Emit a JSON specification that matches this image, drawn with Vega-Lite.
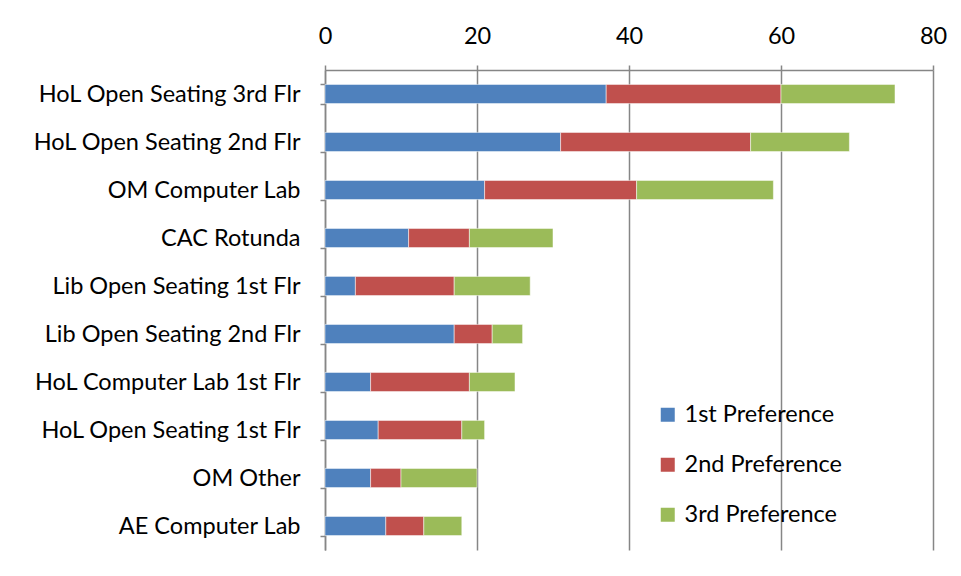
{
  "$schema": "https://vega.github.io/schema/vega-lite/v6.json",
  "width": 608,
  "height": 480,
  "autosize": {"type": "none"},
  "padding": {"left": 325, "top": 70, "right": 28, "bottom": 26},
  "background": "white",
  "config": {
    "view": {"stroke": null},
    "font": "Lato",
    "axis": {"labelFont": "Lato", "labelColor": "#000000", "labelFontSize": 23.5, "domainColor": "#868686", "tickColor": "#868686", "gridColor": "#868686", "domainWidth": 1.5, "tickWidth": 1.5, "gridWidth": 1.5, "tickSize": 5},
    "legend": {"labelFont": "Lato", "labelFontSize": 23.5, "labelColor": "#000000"}
  },
  "data": {
    "values": [
      {"loc": "HoL Open Seating 3rd Flr", "pref": "1st Preference", "rank": 1, "n": 37},
      {"loc": "HoL Open Seating 3rd Flr", "pref": "2nd Preference", "rank": 2, "n": 23},
      {"loc": "HoL Open Seating 3rd Flr", "pref": "3rd Preference", "rank": 3, "n": 15},
      {"loc": "HoL Open Seating 2nd Flr", "pref": "1st Preference", "rank": 1, "n": 31},
      {"loc": "HoL Open Seating 2nd Flr", "pref": "2nd Preference", "rank": 2, "n": 25},
      {"loc": "HoL Open Seating 2nd Flr", "pref": "3rd Preference", "rank": 3, "n": 13},
      {"loc": "OM Computer Lab", "pref": "1st Preference", "rank": 1, "n": 21},
      {"loc": "OM Computer Lab", "pref": "2nd Preference", "rank": 2, "n": 20},
      {"loc": "OM Computer Lab", "pref": "3rd Preference", "rank": 3, "n": 18},
      {"loc": "CAC Rotunda", "pref": "1st Preference", "rank": 1, "n": 11},
      {"loc": "CAC Rotunda", "pref": "2nd Preference", "rank": 2, "n": 8},
      {"loc": "CAC Rotunda", "pref": "3rd Preference", "rank": 3, "n": 11},
      {"loc": "Lib Open Seating 1st Flr", "pref": "1st Preference", "rank": 1, "n": 4},
      {"loc": "Lib Open Seating 1st Flr", "pref": "2nd Preference", "rank": 2, "n": 13},
      {"loc": "Lib Open Seating 1st Flr", "pref": "3rd Preference", "rank": 3, "n": 10},
      {"loc": "Lib Open Seating 2nd Flr", "pref": "1st Preference", "rank": 1, "n": 17},
      {"loc": "Lib Open Seating 2nd Flr", "pref": "2nd Preference", "rank": 2, "n": 5},
      {"loc": "Lib Open Seating 2nd Flr", "pref": "3rd Preference", "rank": 3, "n": 4},
      {"loc": "HoL Computer Lab 1st Flr", "pref": "1st Preference", "rank": 1, "n": 6},
      {"loc": "HoL Computer Lab 1st Flr", "pref": "2nd Preference", "rank": 2, "n": 13},
      {"loc": "HoL Computer Lab 1st Flr", "pref": "3rd Preference", "rank": 3, "n": 6},
      {"loc": "HoL Open Seating 1st Flr", "pref": "1st Preference", "rank": 1, "n": 7},
      {"loc": "HoL Open Seating 1st Flr", "pref": "2nd Preference", "rank": 2, "n": 11},
      {"loc": "HoL Open Seating 1st Flr", "pref": "3rd Preference", "rank": 3, "n": 3},
      {"loc": "OM Other", "pref": "1st Preference", "rank": 1, "n": 6},
      {"loc": "OM Other", "pref": "2nd Preference", "rank": 2, "n": 4},
      {"loc": "OM Other", "pref": "3rd Preference", "rank": 3, "n": 10},
      {"loc": "AE Computer Lab", "pref": "1st Preference", "rank": 1, "n": 8},
      {"loc": "AE Computer Lab", "pref": "2nd Preference", "rank": 2, "n": 5},
      {"loc": "AE Computer Lab", "pref": "3rd Preference", "rank": 3, "n": 5}
    ]
  },
  "mark": {"type": "bar", "stroke": "#ffffff", "strokeOpacity": 0.5, "strokeWidth": 1},
  "encoding": {
    "y": {
      "field": "loc", "type": "nominal", "title": null,
      "sort": ["HoL Open Seating 3rd Flr", "HoL Open Seating 2nd Flr", "OM Computer Lab", "CAC Rotunda", "Lib Open Seating 1st Flr", "Lib Open Seating 2nd Flr", "HoL Computer Lab 1st Flr", "HoL Open Seating 1st Flr", "OM Other", "AE Computer Lab"],
      "scale": {"paddingInner": 0.6, "paddingOuter": 0.3},
      "axis": {"tickBand": "extent", "grid": false, "labelPadding": 20, "labelLimit": 320}
    },
    "x": {
      "field": "n", "type": "quantitative", "stack": "zero", "title": null,
      "scale": {"domain": [0, 80], "nice": false},
      "axis": {"orient": "top", "values": [0, 20, 40, 60, 80], "grid": true, "labelPadding": 17, "labelFlush": false}
    },
    "color": {
      "field": "pref", "type": "nominal", "title": null,
      "scale": {"domain": ["1st Preference", "2nd Preference", "3rd Preference"], "range": ["#4F81BD", "#C0504D", "#9BBB59"]},
      "legend": {"orient": "none", "legendX": 331, "legendY": 333, "symbolType": "square", "symbolSize": 196, "symbolStrokeWidth": 0, "rowPadding": 25, "labelOffset": 5}
    },
    "order": {"field": "rank", "type": "quantitative", "sort": "ascending"}
  }
}
